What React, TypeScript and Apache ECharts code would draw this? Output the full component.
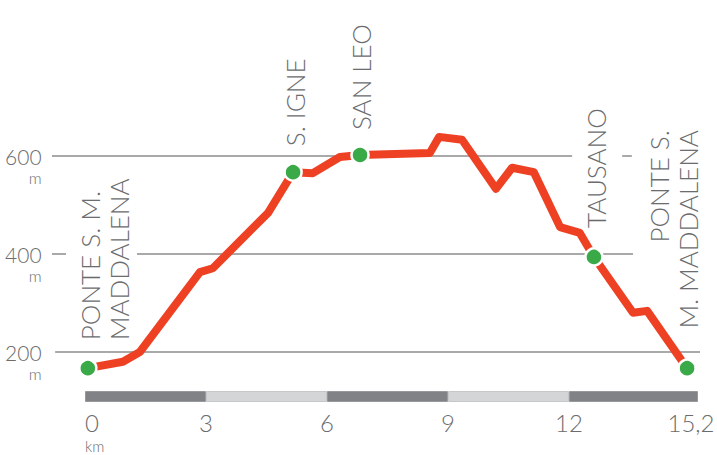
import React, { useEffect, useRef } from 'react';
import * as echarts from 'echarts';

// Route profile (distance in km, elevation in m)
const distanceKm = [0.07, 0.94, 1.36, 2.85, 3.17, 4.54, 5.16, 5.65, 6.32, 6.82, 8.55, 8.78, 9.35, 10.19, 10.59, 11.13, 11.78, 12.27, 12.62, 13.59, 13.94, 14.93];
const elevationM = [167, 180, 200, 363, 371, 484, 567, 565, 598, 602, 606, 639, 633, 533, 576, 567, 455, 443, 394, 280, 284, 167];

// Named stops along the route (index into the profile)
const stopNames = ['PONTE S. M.\nMADDALENA', 'S. IGNE', 'SAN LEO', 'TAUSANO', 'PONTE S.\nM. MADDALENA'];
const stopIndex = [0, 6, 9, 18, 21];

// Axis ticks
const yTicks = [200, 400, 600];
const xTicks = [0, 3, 6, 9, 12, 15.2];
const stripSegmentsKm = [3, 3, 3, 3, 3.2];

// Styling / layout (not data)
const TEXT = '#6b6c6e';
const FONT = 'Lato, "Open Sans", sans-serif';
const GRID_COLOR = '#8c8c8e';
const gridSegments = [
  { v: 600, from: -0.82, to: 12.08 },
  { v: 600, from: 13.32, to: 13.56 },
  { v: 400, from: -0.82, to: -0.47 },
  { v: 400, from: 1.29, to: 13.59 },
  { v: 200, from: -0.74, to: 15.25 },
];
const labelLayout = [
  { dx: 16.5, dy: -28, align: 'left' },
  { dx: 2, dy: -26, align: 'left' },
  { dx: 1, dy: -25, align: 'left' },
  { dx: 2, dy: -29, align: 'left' },
  { dx: -14, dy: -238, align: 'right' },
];

export default function App() {
  const ref = useRef<HTMLDivElement>(null);
  useEffect(() => {
    if (!ref.current) return;
    const chart = echarts.init(ref.current, null, { renderer: 'svg' });
    const profile = distanceKm.map((d, i) => [d, elevationM[i]]);
    const stops = stopIndex.map((i) => [distanceKm[i], elevationM[i]]);

    const series: any[] = [];
    gridSegments.forEach((s) => {
      series.push({
        type: 'line',
        xAxisIndex: 0,
        yAxisIndex: 0,
        data: [[s.from, s.v], [s.to, s.v]],
        symbol: 'none',
        silent: true,
        clip: false,
        lineStyle: { color: GRID_COLOR, width: 1.5 },
        z: 1,
      });
    });
    series.push({
      type: 'line',
      xAxisIndex: 0,
      yAxisIndex: 0,
      data: profile,
      symbol: 'none',
      lineStyle: { color: '#ee4124', width: 8, join: 'round', cap: 'round' },
      z: 3,
    });
    series.push({
      type: 'scatter',
      xAxisIndex: 0,
      yAxisIndex: 0,
      data: stops,
      symbol: 'circle',
      symbolSize: 17,
      itemStyle: { color: '#3aaa48', borderColor: '#ffffff', borderWidth: 2.5, opacity: 1 },
      z: 4,
    });
    stripSegmentsKm.forEach((seg, i) => {
      const dark = i % 2 === 0;
      series.push({
        type: 'bar',
        xAxisIndex: 1,
        yAxisIndex: 1,
        stack: 'strip',
        data: [seg],
        barWidth: 11,
        silent: true,
        itemStyle: {
          color: dark ? '#818285' : '#d4d5d7',
          borderColor: dark ? '#97989b' : '#c6c7c9',
          borderWidth: 1,
        },
      });
    });

    const option: any = {
      animation: false,
      textStyle: { fontFamily: FONT, color: TEXT },
      grid: [
        { left: 44.67, top: 107, width: 665.4, height: 294, outerBoundsMode: 'none', containLabel: false },
        { left: 85, top: 391, width: 613, height: 11, outerBoundsMode: 'none', containLabel: false },
      ],
      xAxis: [
        { type: 'value', gridIndex: 0, min: -1, max: 15.5, show: false },
        {
          type: 'value',
          gridIndex: 1,
          min: 0,
          max: 15.2,
          axisLine: { show: false },
          axisTick: { show: false },
          splitLine: { show: false },
          axisLabel: {
            customValues: xTicks,
            margin: 8.5,
            alignMinLabel: 'left',
            hideOverlap: false,
            color: TEXT,
            fontFamily: FONT,
            fontWeight: 300,
            fontSize: 24,
            lineHeight: 24,
            formatter: (v: number) => {
              if (Math.abs(v - 15.2) < 1e-6) return '{last|15,2}';
              return String(v).replace('.', ',');
            },
            rich: {
              last: { fontSize: 24, lineHeight: 24, color: TEXT, fontFamily: FONT, fontWeight: 300, padding: [0, 14, 0, 0] },
            },
          },
        },
      ],
      yAxis: [
        {
          type: 'value',
          gridIndex: 0,
          min: 100,
          max: 700,
          axisLine: { show: false },
          axisTick: { show: false },
          splitLine: { show: false },
          axisLabel: {
            customValues: yTicks,
            margin: 3,
            align: 'right',
            color: TEXT,
            formatter: (v: number) => `{s| }\n{v|${v}}\n{m|m}`,
            rich: {
              s: { fontSize: 14, lineHeight: 18, color: TEXT, fontFamily: FONT, align: 'right' },
              v: { fontSize: 21, lineHeight: 24, color: TEXT, fontFamily: FONT, fontWeight: 300, align: 'right' },
              m: { fontSize: 16, lineHeight: 18, color: TEXT, fontFamily: FONT, fontWeight: 300, align: 'right' },
            },
          },
        },
        { type: 'category', gridIndex: 1, data: ['route'], show: false },
      ],
      series,
    };
    chart.setOption(option);

    const graphic: any[] = stops.map((p, i) => {
      const px = chart.convertToPixel({ gridIndex: 0 }, p) as number[];
      const l = labelLayout[i];
      return {
        type: 'text',
        x: px[0] + l.dx,
        y: px[1] + l.dy,
        rotation: Math.PI / 2,
        silent: true,
        z: 10,
        style: {
          text: stopNames[i],
          fill: TEXT,
          fontSize: 26,
          fontWeight: 300,
          fontFamily: FONT,
          lineHeight: 29,
          align: l.align,
          verticalAlign: 'middle',
        },
      };
    });
    // unit "km" under the distance origin
    const origin = chart.convertToPixel({ gridIndex: 1 }, [0, 'route']) as number[];
    graphic.push({
      type: 'text',
      x: origin[0],
      y: origin[1] + 49.5,
      silent: true,
      style: {
        text: 'km',
        fill: TEXT,
        fontSize: 15,
        lineHeight: 16,
        fontWeight: 300,
        fontFamily: FONT,
        align: 'left',
        verticalAlign: 'middle',
      },
    });
    chart.setOption({ graphic });

    return () => chart.dispose();
  }, []);
  return (
    <div
      ref={ref}
      style={{ position: 'fixed', left: 0, top: 0, width: 717, height: 455, background: '#ffffff' }}
    />
  );
}
